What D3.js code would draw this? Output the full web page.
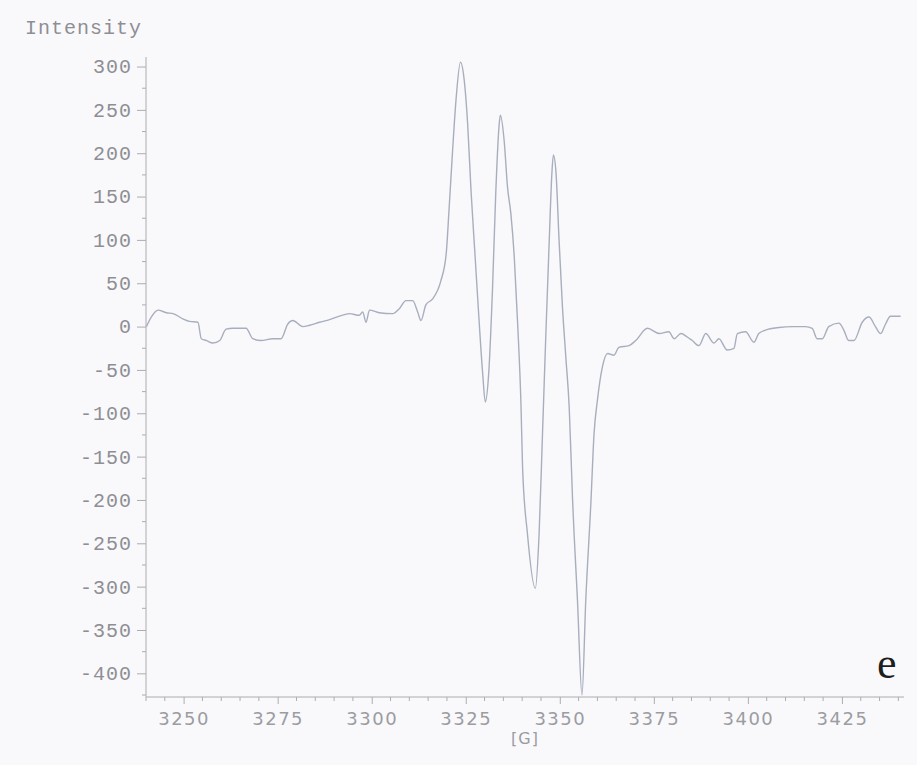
<!DOCTYPE html>
<html>
<head>
  <meta charset="utf-8">
  <script src="https://d3js.org/d3.v7.min.js"></script>
  <style type="text/css">
    body {
      margin: 0;
      background: #f9f9fb;
    }
    .ylab, .ytitle {
      font-family: "Liberation Mono", "DejaVu Sans Mono", monospace;
      font-size: 20px;
      letter-spacing: 1px;
      fill: #8e8e94;
    }
    .xlab, .xtitle {
      font-family: "DejaVu Sans", sans-serif;
      fill: #9c9ca2;
    }
  </style>
</head>
<body>
  <script type="text/javascript">
    // field values (G)
    var fieldG = [
      3240.1, 3241.4, 3243.2, 3245.4, 3247.2, 3249.8, 3251.6, 3253.8, 3254.7, 3256.0,
      3257.8, 3259.6, 3261.3, 3263.1, 3266.6, 3268.4, 3270.6, 3273.7, 3275.9, 3277.7,
      3279.0, 3281.7, 3283.5, 3286.1, 3288.8, 3291.4, 3294.1, 3296.7, 3297.6, 3298.5,
      3299.4, 3302.0, 3305.6, 3307.4, 3309.1, 3310.9, 3312.2, 3313.1, 3314.4, 3316.2,
      3318.4, 3319.8, 3320.6, 3321.5, 3322.4, 3323.6, 3324.6, 3325.5, 3326.4, 3327.5,
      3328.6, 3329.5, 3330.2, 3331.1, 3332.1, 3333.0, 3333.9, 3334.2, 3335.2, 3336.1,
      3337.0, 3337.9, 3338.8, 3339.7, 3340.1, 3341.4, 3343.5, 3344.5, 3345.4, 3346.3,
      3347.2, 3347.9, 3348.3, 3349.0, 3349.8, 3350.7, 3351.6, 3352.5, 3353.4, 3354.7,
      3355.9, 3356.9, 3358.3, 3359.1, 3360.0, 3361.3, 3362.7, 3364.4, 3365.7, 3368.4,
      3370.2, 3373.3, 3376.4, 3379.0, 3380.4, 3382.2, 3383.9, 3385.2, 3387.0, 3388.8,
      3391.0, 3392.3, 3394.5, 3396.3, 3397.2, 3399.4, 3401.6, 3402.9, 3404.7, 3408.3,
      3411.8, 3415.3, 3417.1, 3418.4, 3419.8, 3421.5, 3424.2, 3425.5, 3426.8, 3428.2,
      3430.4, 3432.2, 3433.9, 3435.3, 3436.6, 3437.9, 3440.6
    ];
    var intensity = [
      0, 11, 19, 16, 15, 9, 6, 5, -14, -16,
      -19, -16, -3, -2, -2, -14, -16, -14, -14, 3,
      7, 0, 1.5, 5, 8, 12, 15, 13, 17, 5,
      19, 16, 15, 21, 30, 30, 17, 7, 25, 32,
      53, 84, 138, 203, 261, 305, 284, 234, 157, 80,
      3, -54, -87, -54, 42, 157, 234, 244, 215, 161,
      130, 80, 3, -93, -162, -239, -302, -239, -124, -8,
      100, 177, 198, 177, 100, 23, -35, -93, -200, -316,
      -425, -316, -200, -124, -85, -47, -31, -33, -24, -22,
      -16, -2, -8, -6, -14, -8, -12, -16, -22, -8,
      -19, -14, -27, -25, -8, -6, -18, -8, -4, -1,
      0, 0, -2, -14, -14, 0, 4, -4, -16, -16,
      5, 11, 0, -8, 3, 12, 12
    ];
    var yTicks = [300, 250, 200, 150, 100, 50, 0, -50, -100, -150, -200, -250, -300, -350, -400];
    var xTicks = [3250, 3275, 3300, 3325, 3350, 3375, 3400, 3425];

    var W = 917, H = 765;
    var padL = 146, padR = 904, padT = 57, padB = 695;

    var svg = d3.select("body").append("svg")
      .attr("width", W)
      .attr("height", H);

    svg.append("rect")
      .attr("width", W).attr("height", H)
      .attr("fill", "#f9f9fb");

    var x = d3.scaleLinear().domain([3240, 3441.5]).range([padL, padR]);
    var y = d3.scaleLinear().domain([-425, 311]).range([padB, padT]);

    // y axis: majors every 50, minors in between
    var yAxis = d3.axisLeft(y)
      .tickValues(yTicks)
      .tickSize(9)
      .tickPadding(5)
      .tickFormat(function (d) { return String(d); });   // plain hyphen like the original
    var gy = svg.append("g")
      .attr("transform", "translate(" + padL + ",0)")
      .call(yAxis);
    gy.select(".domain").remove();
    gy.selectAll(".tick line").attr("stroke", "#acacb2");
    gy.selectAll(".tick text").attr("class", "ylab").attr("fill", null);

    var yMinor = d3.range(-425, 311, 25).filter(function (v) { return v % 50 !== 0; });
    svg.append("g").selectAll("line")
      .data(yMinor)
      .enter().append("line")
        .attr("x1", padL - 4).attr("x2", padL)
        .attr("y1", function (d) { return y(d); })
        .attr("y2", function (d) { return y(d); })
        .attr("stroke", "#acacb2");

    svg.append("line")
      .attr("x1", padL).attr("x2", padL)
      .attr("y1", padT).attr("y2", padB + 2)
      .attr("stroke", "#acacb2");

    // x axis, minors every 5 G
    var xAxis = d3.axisBottom(x)
      .tickValues(xTicks)
      .tickSize(7)
      .tickPadding(8)
      .tickFormat(function (d) { return String(d); });
    var gx = svg.append("g")
      .attr("transform", "translate(0," + (padB + 2) + ")")
      .call(xAxis);
    gx.select(".domain").remove();
    gx.selectAll(".tick line").attr("stroke", "#acacb2");
    gx.selectAll(".tick text")
      .attr("class", "xlab")
      .attr("fill", null)
      .style("font-size", "18px")
      .style("letter-spacing", "1.5px");

    var xMinor = d3.range(3240, 3442, 5).filter(function (v) { return v % 25 !== 0; });
    svg.append("g").selectAll("line")
      .data(xMinor)
      .enter().append("line")
        .attr("x1", function (d) { return x(d); })
        .attr("x2", function (d) { return x(d); })
        .attr("y1", padB + 2).attr("y2", padB + 6)
        .attr("stroke", "#acacb2");

    svg.append("line")
      .attr("x1", padL).attr("x2", padR)
      .attr("y1", padB + 2).attr("y2", padB + 2)
      .attr("stroke", "#acacb2");

    // titles
    svg.append("text")
      .attr("class", "ytitle")
      .attr("x", 25).attr("y", 34)
      .attr("fill", "#828288")
      .text("Intensity");

    svg.append("text")
      .attr("class", "xtitle")
      .attr("x", (padL + padR) / 2).attr("y", 744)
      .attr("text-anchor", "middle")
      .style("font-size", "16px")
      .style("letter-spacing", "1px")
      .text("[G]");

    // the spectrum
    var line = d3.line()
      .curve(d3.curveMonotoneX)
      .x(function (d, i) { return x(fieldG[i]); })
      .y(function (d) { return y(d); });

    svg.append("path")
      .datum(intensity)
      .attr("d", line)
      .attr("fill", "none")
      .attr("stroke", "#a7aebd")
      .attr("stroke-width", 1.4);

    svg.append("text")
      .attr("x", 877).attr("y", 678)
      .style("font-family", "'Liberation Serif', 'DejaVu Serif', serif")
      .style("font-size", "44px")
      .attr("fill", "#1e1e1e")
      .text("e");
  </script>
</body>
</html>
